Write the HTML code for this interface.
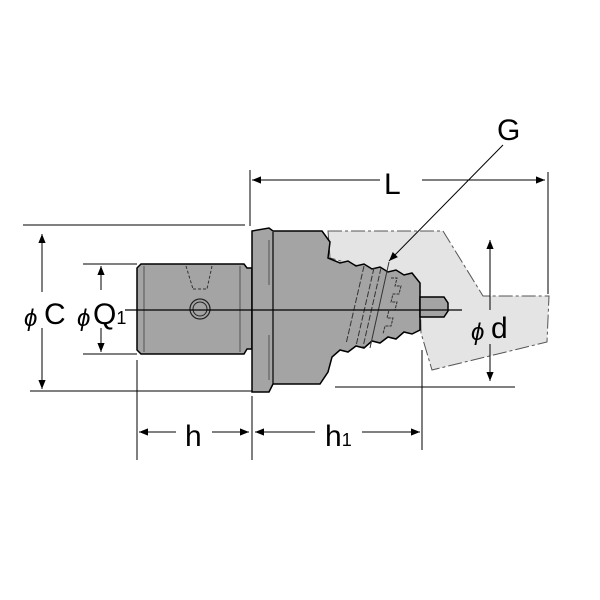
<!DOCTYPE html>
<html><head><meta charset="utf-8"><style>body{margin:0;background:#fff}svg{display:block}</style></head><body>
<svg width="600" height="600" viewBox="0 0 600 600" xmlns="http://www.w3.org/2000/svg" font-family="Liberation Sans, sans-serif">
<defs><marker id="a" viewBox="0 0 10 10" refX="10" refY="5" markerWidth="16" markerHeight="9" orient="auto-start-reverse" markerUnits="userSpaceOnUse"><path d="M0,1 L10,5 L0,9 Z" fill="#000"/></marker></defs>
<polygon points="328,231 443,231 483,296 549,296 547,342 432,370 421,333 420,283 330,258" fill="#e4e4e4" stroke="#555" stroke-width="1" stroke-dasharray="14,3,3,3"/>
<path d="M141,264 L244,264 L247,268 L252,268 L252,349 L247,349 L244,354 L141,354 L137,350 L137,268 Z" fill="#a4a4a4" stroke="#000" stroke-width="1.5"/>
<line x1="144" y1="266" x2="144" y2="352" stroke="#555"/><line x1="240" y1="266" x2="240" y2="352" stroke="#555"/>
<path d="M186,266 L193,289 M212,266 L207,289 M193,289 L207,289" stroke="#333" fill="none" stroke-dasharray="3,2"/>
<circle cx="200" cy="309" r="10" fill="none" stroke="#222" stroke-width="1.2"/><circle cx="200" cy="309" r="7" fill="none" stroke="#222"/>
<path d="M252,231 L269,228 L273,231 L322,231 L330,242 L328,258 L340,263 L348,261 L356,266 L364,264 L372,269 L380,267 L388,272 L396,270 L404,275 L412,273 L420,283 L420,330 L412,334 L404,332 L396,339 L388,337 L380,343 L372,341 L364,348 L356,346 L348,352 L340,350 L332,357 L328,372 L320,384 L273,384 L269,392 L252,392 Z" fill="#a4a4a4" stroke="#000" stroke-width="1.5"/>
<line x1="273" y1="232" x2="273" y2="384" stroke="#000" stroke-width="1.2"/>
<line x1="269" y1="240" x2="269" y2="285" stroke="#555"/><line x1="269" y1="335" x2="269" y2="380" stroke="#555"/>
<path d="M420,297 L444,297 L448,303 L448,311 L444,317 L420,317 Z" fill="#a4a4a4" stroke="#000" stroke-width="1.5"/>
<path d="M364,266 L346,344 M374,268 L356,346 M381,268 L363,347" stroke="#333" fill="none" stroke-dasharray="6,2"/>
<path d="M389,262 L370,348" stroke="#333" fill="none"/>
<path d="M391,278 l6,0 l-2,8 l6,0 l-2,8 l-6,0 l-2,8 l6,0 l-2,8 l-6,0 l-2,8 l6,0 l-2,8 l-6,0 l-2,8" stroke="#333" fill="none" stroke-dasharray="3,1"/>
<line x1="125" y1="310" x2="462" y2="310" stroke="#000" stroke-width="1.2"/>
<g stroke="#000" stroke-width="1" fill="none">
<line x1="23" y1="225" x2="245" y2="225"/><line x1="30" y1="391" x2="252" y2="391"/>
<line x1="83" y1="264" x2="137" y2="264"/><line x1="83" y1="354" x2="137" y2="354"/>
<line x1="137" y1="360" x2="137" y2="460"/><line x1="252" y1="396" x2="252" y2="460"/>
<line x1="422" y1="350" x2="422" y2="450"/>
<line x1="250" y1="170" x2="250" y2="226"/><line x1="548" y1="172" x2="548" y2="294"/>
<line x1="335" y1="387" x2="515" y2="387"/>
<line x1="42" y1="292" x2="42" y2="234" marker-end="url(#a)"/><line x1="42" y1="328" x2="42" y2="389" marker-end="url(#a)"/>
<line x1="101" y1="290" x2="101" y2="266" marker-end="url(#a)"/><line x1="101" y1="328" x2="101" y2="352" marker-end="url(#a)"/>
<line x1="176" y1="432" x2="139" y2="432" marker-end="url(#a)"/><line x1="212" y1="432" x2="249" y2="432" marker-end="url(#a)"/>
<line x1="315" y1="432" x2="255" y2="432" marker-end="url(#a)"/><line x1="362" y1="432" x2="420" y2="432" marker-end="url(#a)"/>
<line x1="380" y1="180" x2="252" y2="180" marker-end="url(#a)"/><line x1="422" y1="180" x2="545" y2="180" marker-end="url(#a)"/>
<line x1="490" y1="310" x2="490" y2="240" marker-end="url(#a)"/><line x1="490" y1="344" x2="490" y2="381" marker-end="url(#a)"/>
<line x1="503" y1="145" x2="389" y2="261" marker-end="url(#a)"/>
</g>
<g font-size="30" fill="#000">
<text x="384" y="194">L</text>
<text x="497" y="140">G</text>
<text x="185" y="446">h</text>
<text x="325" y="446">h<tspan font-size="18">1</tspan></text>
<text x="44" y="324">C</text>
<text x="93" y="324">Q<tspan font-size="18">1</tspan></text>
<text x="491" y="338">d</text>
<text x="24" y="326" font-size="24" font-style="italic">ϕ</text>
<text x="77" y="326" font-size="24" font-style="italic">ϕ</text>
<text x="471" y="340" font-size="24" font-style="italic">ϕ</text>
</g>
</svg>
</body></html>
